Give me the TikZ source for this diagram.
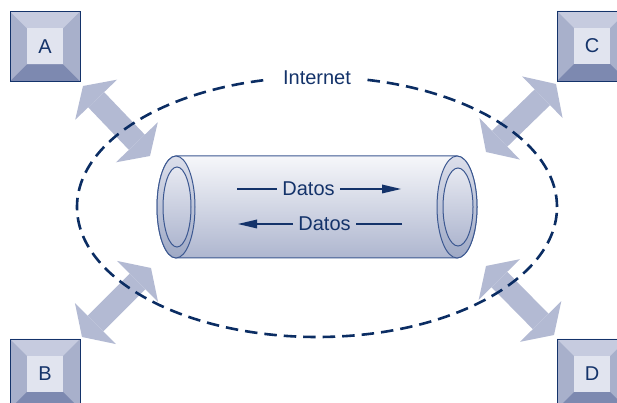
\documentclass[tikz,border=0pt]{standalone}
\usepackage{fontspec}
\setmainfont{Liberation Sans}
\usetikzlibrary{positioning,arrows.meta,shapes.geometric}

\definecolor{navy}{HTML}{14336A}
\definecolor{netline}{HTML}{0B2D63}
\definecolor{pipeline}{HTML}{3C5891}
\definecolor{bevtop}{HTML}{C6CBDF}
\definecolor{bevside}{HTML}{A8B0CB}
\definecolor{bevbot}{HTML}{7D89B0}
\definecolor{keyface}{HTML}{E1E4EF}
\definecolor{flow}{HTML}{B3BAD3}
\definecolor{pipetop}{HTML}{F6F7FA}
\definecolor{pipemid}{HTML}{DCDFEB}
\definecolor{pipebot}{HTML}{AEB6CF}

\tikzset{
  label/.style={text=navy, font=\fontsize{20}{24}\selectfont},
  host/.style={label, rectangle, minimum size=70pt, inner sep=0pt,
    draw=navy, line width=0.9pt,
    path picture={
      \fill[bevside] (path picture bounding box.south west)
        rectangle (path picture bounding box.north east);
      \fill[bevtop] (path picture bounding box.north west)
        -- ++(70pt,0pt) -- ++(-17pt,-17pt) -- ++(-36pt,0pt) -- cycle;
      \fill[bevbot] (path picture bounding box.south west)
        -- ++(70pt,0pt) -- ++(-17pt,17pt) -- ++(-36pt,0pt) -- cycle;
      \fill[keyface] (path picture bounding box.center)
        +(-18pt,-18pt) rectangle +(18pt,18pt);
    }},
  link/.style={draw=flow, line width=22pt,
    {Triangle[length=19pt,width=58pt,line width=0pt]}-{Triangle[length=19pt,width=58pt,line width=0pt]}},
  datos/.style={label, inner xsep=5pt, inner ysep=2pt},
  flowline/.style={draw=navy, line width=1.8pt},
  flowtip/.style={flowline, -{Triangle[length=19pt,width=9pt,line width=0pt]}},
}

\begin{document}
\begin{tikzpicture}[x=1pt, y=1pt]
  \useasboundingbox (0,0) rectangle (617,403);

  % Link end points
  \coordinate (a-out) at (83,317);
  \coordinate (a-in)  at (150,247);
  \coordinate (c-out) at (556,319);
  \coordinate (c-in)  at (486,251);
  \coordinate (b-out) at (82,66);
  \coordinate (b-in)  at (151,135);
  \coordinate (d-out) at (554,68);
  \coordinate (d-in)  at (486,137);

  % Links
  \draw[link] (a-out) -- (a-in);
  \draw[link] (c-out) -- (c-in);
  \draw[link] (b-out) -- (b-in);
  \draw[link] (d-out) -- (d-in);

  % Define nodes
  \node[host] (hA) at (45,356.5) {A};
  \node[host] (hC) at (592,357) {C};
  \node[host] (hB) at (45,29) {B};
  \node[host] (hD) at (592,29) {D};

  \node[ellipse, draw=netline, line width=2.6pt, dash pattern=on 12.5pt off 7pt,
    minimum width=480pt, minimum height=260pt, inner sep=0pt] (net) at (317,196) {};
  \node[label, fill=white, inner xsep=13pt, inner ysep=3pt, yshift=-2pt] (inet) at (net.north) {Internet};

  % The pipe
  \shade[top color=pipetop, middle color=pipemid, bottom color=pipebot, draw=pipeline, line width=1pt]
    (176,247) -- (457,247) arc[start angle=90, end angle=-90, x radius=20pt, y radius=51pt]
    -- (176,145) arc[start angle=270, end angle=90, x radius=19pt, y radius=51pt] -- cycle;
  \shade[top color=pipemid, bottom color=pipebot!90!navy, draw=pipeline, line width=1pt]
    (176,196) ellipse [x radius=19pt, y radius=51pt];
  \shade[top color=pipemid!70!white, bottom color=pipebot, draw=pipeline, line width=1pt]
    (177,196) ellipse [x radius=14pt, y radius=40pt];
  \shade[top color=pipemid, bottom color=pipebot!90!navy, draw=pipeline, line width=1pt]
    (457,196) ellipse [x radius=20pt, y radius=51pt];
  \shade[top color=pipemid!70!white, bottom color=pipebot, draw=pipeline, line width=1pt]
    (458,196) ellipse [x radius=15pt, y radius=39pt];

  % Data in both directions
  \node[datos] (dr) at (308.5,214) {Datos};
  \node[datos] (dl) at (324.5,179) {Datos};
  \coordinate (dr-from) at (237,214);
  \coordinate (dr-to)   at (401,214);
  \coordinate (dl-to)   at (238,179);
  \coordinate (dl-from) at (402,179);

  \draw[flowline] (dr-from) -- (dr.west);
  \draw[flowtip]  (dr.east) -- (dr-to);
  \draw[flowtip]  (dl.west) -- (dl-to);
  \draw[flowline] (dl-from) -- (dl.east);

\end{tikzpicture}
\end{document}
